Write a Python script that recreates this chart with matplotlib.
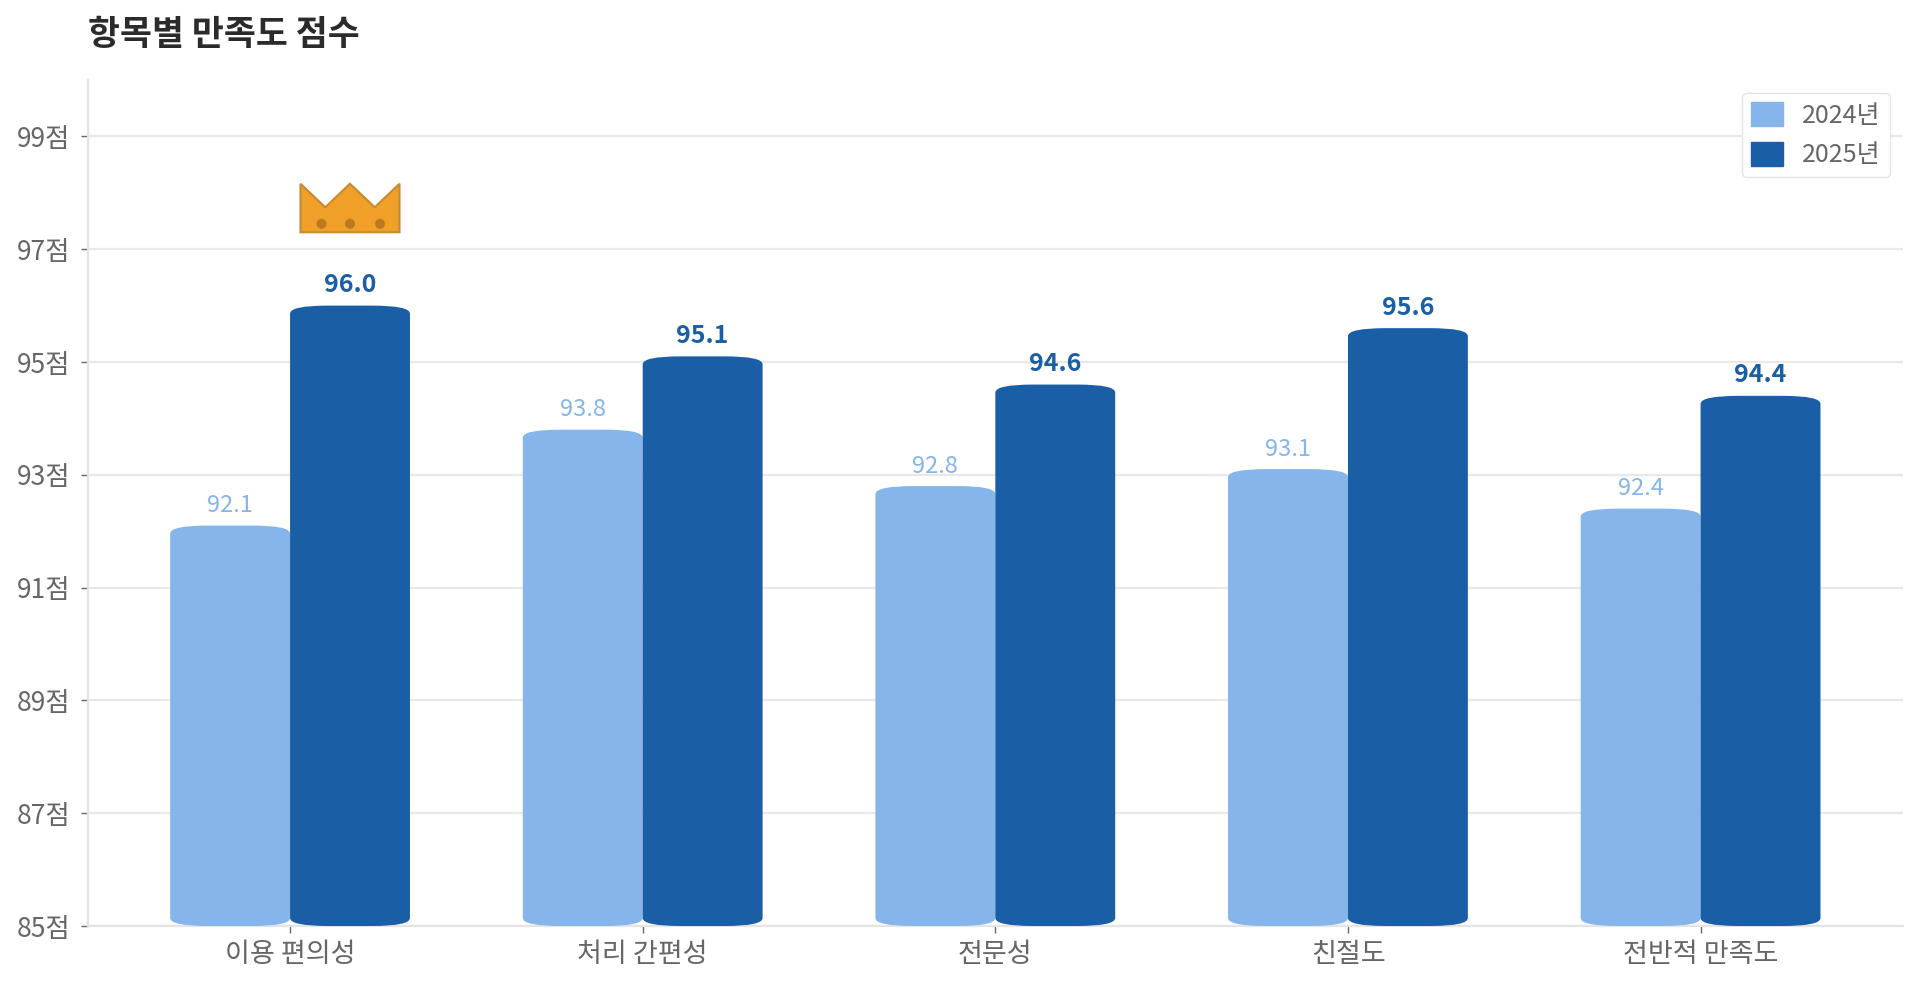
import matplotlib
matplotlib.use('Agg')
import matplotlib.pyplot as plt
import numpy as np
from matplotlib.patches import PathPatch, Polygon, Ellipse
from matplotlib.path import Path

plt.rcParams['font.family'] = ['Noto Sans CJK KR', 'DejaVu Sans']

categories = ['이용 편의성', '처리 간편성', '전문성', '친절도', '전반적 만족도']
values_2024 = [92.1, 93.8, 92.8, 93.1, 92.4]
values_2025 = [96.0, 95.1, 94.6, 95.6, 94.4]
yticks = [85, 87, 89, 91, 93, 95, 97, 99]

LIGHT = '#85B5EA'
DARK = '#1A5EA6'
BAR_W = 0.34
BASE = 85

# px -> data scale of this axes
PX_X = 1 / 352.6
PX_Y = 1 / 56.36


def round_bar(ax, x, width, top, color, zorder):
    # 角が楕円のバー
    rx, ry = 38 * PX_X, 8 * PX_Y
    l, r = x - width / 2, x + width / 2
    b = BASE
    verts = [(l, b + ry), (l, top - ry), (l, top), (l + rx, top), (r - rx, top), (r, top), (r, top - ry),
             (r, b + ry), (r, b), (r - rx, b), (l + rx, b), (l, b), (l, b + ry), (l, b + ry)]
    codes = [Path.MOVETO, Path.LINETO, Path.CURVE3, Path.CURVE3, Path.LINETO, Path.CURVE3, Path.CURVE3,
             Path.LINETO, Path.CURVE3, Path.CURVE3, Path.LINETO, Path.CURVE3, Path.CURVE3, Path.CLOSEPOLY]
    ax.add_patch(PathPatch(Path(verts, codes), facecolor=color, edgecolor='none', zorder=zorder))


def crown(ax, cx, base_y):
    # 王冠
    w, h, v = 49.5 * PX_X, 48.5 * PX_Y, 25 * PX_Y
    pts = [(cx - w, base_y), (cx - w, base_y + h), (cx - w / 2, base_y + v), (cx, base_y + h),
           (cx + w / 2, base_y + v), (cx + w, base_y + h), (cx + w, base_y)]
    ax.add_patch(Polygon(pts, closed=True, facecolor='#F0A028', edgecolor='#C48A2E', linewidth=1.5, zorder=4))
    for dx in (-28.5, 0, 30):
        ax.add_patch(Ellipse((cx + dx * PX_X, base_y + 8.5 * PX_Y), 10 * PX_X, 10 * PX_Y,
                             facecolor='#BC7A20', edgecolor='none', zorder=5))


fig = plt.figure(figsize=(19.2, 9.88), dpi=100)
ax = fig.add_axes([88 / 1920, 1 - 926 / 988, (1903 - 88) / 1920, (926 - 80) / 988])

x = np.arange(len(categories))
for i in x:
    round_bar(ax, i - BAR_W / 2, BAR_W, values_2024[i], LIGHT, 3)
    round_bar(ax, i + BAR_W / 2, BAR_W, values_2025[i], DARK, 3.5)
    ax.text(i - BAR_W / 2, values_2024[i] + 0.15, f'{values_2024[i]:.1f}', ha='center', va='bottom',
            fontsize=17, color=LIGHT)
    ax.text(i + BAR_W / 2, values_2025[i] + 0.15, f'{values_2025[i]:.1f}', ha='center', va='bottom',
            fontsize=18, color=DARK, fontweight='bold')

best = int(np.argmax(values_2025))
crown(ax, best + BAR_W / 2, values_2025[best] + 1.3)

ax.set_xlim(-0.573, 4.574)
ax.set_ylim(85, 100)
ax.set_xticks(x)
ax.set_xticklabels(categories, fontsize=19.5, color='#666666')
ax.set_yticks(yticks)
ax.set_yticklabels([f'{v}점' for v in yticks], fontsize=19, color='#666666')
ax.tick_params(axis='both', color='#666666', length=5, width=1)
ax.tick_params(axis='x', pad=6)
ax.tick_params(axis='y', pad=8)
ax.grid(axis='y', color='#E8E8E8', linewidth=1.6, zorder=1)
ax.set_axisbelow(True)
for s in ('top', 'right'):
    ax.spines[s].set_visible(False)
for s in ('left', 'bottom'):
    ax.spines[s].set_color('#E4E4E4')
    ax.spines[s].set_linewidth(1.6)

handles = [plt.Rectangle((0, 0), 1, 1, color=LIGHT), plt.Rectangle((0, 0), 1, 1, color=DARK)]
ax.legend(handles, ['2024년', '2025년'], loc='upper right', bbox_to_anchor=(1890 / 1920, 1 - 93 / 988),
          bbox_transform=fig.transFigure, borderaxespad=0, fontsize=18, labelcolor='#666666',
          frameon=True, framealpha=1, edgecolor='#E4E4E4', handlelength=1.28, handleheight=1.12,
          handletextpad=0.76, labelspacing=0.52, borderpad=0.36)

fig.text(88 / 1920, 1 - 34 / 988, '항목별 만족도 점수', fontsize=25, fontweight='bold', color='#2B2B2B',
         ha='left', va='center')

fig.savefig('out.png', dpi=100)
